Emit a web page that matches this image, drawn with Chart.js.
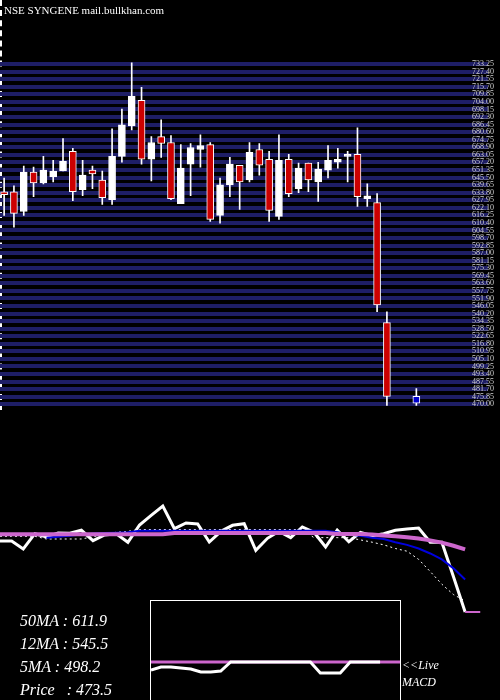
<!DOCTYPE html>
<html lang="en">
<head>
<meta charset="UTF-8">
<title>NSE SYNGENE</title>
<script src="https://cdn.jsdelivr.net/npm/chart.js"></script>
<style>
  body { margin: 0; background: #000; width: 500px; height: 700px; overflow: hidden; position: relative; font-family: "Liberation Serif", serif; color: #fff; }
  .abs { position: absolute; }
  #title { left: 4px; top: 4px; font-size: 11px; }
  #edge { left: 0; top: 0; width: 0; height: 410px; border-left: 2px dashed #fff; }
  .ma { left: 20px; font-size: 16px; font-style: italic; }
  .live { left: 402px; font-size: 12px; font-style: italic; }
  #macdBox { left: 150px; top: 600px; width: 249px; height: 110px; border: 1px solid #fff; }
</style>
</head>
<body>
<div id="edge" class="abs"></div>
<div class="abs" style="left:0;top:0;width:500px;height:420px"><canvas id="priceChart"></canvas></div>
<div class="abs" style="left:0;top:490px;width:500px;height:130px"><canvas id="maChart"></canvas></div>
<div id="macdBox" class="abs"><canvas id="macdChart"></canvas></div>
<div id="title" class="abs">NSE SYNGENE mail.bullkhan.com</div>
<div class="abs ma" style="top:612px">50MA : 611.9</div>
<div class="abs ma" style="top:635px">12MA : 545.5</div>
<div class="abs ma" style="top:658px">5MA : 498.2</div>
<div class="abs ma" style="top:681px">Price &nbsp;&nbsp;: 473.5</div>
<div class="abs live" style="top:658px">&lt;&lt;Live</div>
<div class="abs live" style="top:675px">MACD</div>
<script>
// candles (null = empty session slot)
const opens  = [634.5,634.5,619.2,649.7,641.3,645.9,650.5,665.7,636.0,651.2,643.6,628.4,661.9,685.5,705.3,659.6,677.1,672.6,625.3,655.8,667.2,671.0,616.2,639.8,655.0,643.6,667.2,659.6,615.4,659.6,636.8,656.6,642.1,651.2,657.3,661.9,663.4,629.1,626.1,533.2,null,null,476.1];
const closes = [632.2,617.7,649.7,641.3,651.2,650.5,658.1,634.5,647.4,648.2,629.9,661.9,686.3,708.3,659.6,672.6,671.8,629.1,652.8,668.7,670.3,613.1,639.8,655.8,642.1,664.9,655.0,620.0,658.8,633.0,652.8,643.6,652.0,658.8,659.6,663.4,630.7,631.4,546.9,476.1,null,null,470.8];
const highs  = [645.1,639.0,654.3,653.5,661.9,658.8,675.6,668.0,658.8,654.3,650.5,683.2,698.4,734.2,715.2,677.1,690.1,677.9,671.0,671.8,678.6,672.6,645.1,661.1,655.0,672.6,671.8,665.7,678.6,663.4,656.6,656.6,657.3,670.3,668.0,665.7,684.0,640.6,633.0,541.6,null,null,482.2];
const lows   = [616.2,607.1,616.2,630.7,640.6,642.1,650.5,627.6,631.4,636.8,624.6,624.6,657.3,682.4,655.8,642.8,661.1,628.4,625.3,631.4,653.5,611.6,610.1,630.7,620.8,642.0,647.4,611.6,613.1,630.7,633.7,634.5,626.9,645.1,652.8,642.1,623.1,623.1,541.6,469.2,null,null,469.2];

// lower panel: price line and moving averages
const priceLine = [630.6,630.6,612.9,646.7,639.4,648.3,647.6,654.3,631.2,643.9,646.7,627.7,666.0,687.4,708.0,657.8,670.4,668.2,628.4,652.0,665.3,668.9,610.0,636.5,652.0,637.9,661.6,649.8,617.3,654.9,629.0,649.8,642.3,646.7,654.3,657.1,659.3,627.7,627.7,551.6,473.5];
const ma50 = [645.5,645.5,645.5,645.5,645.5,645.5,645.5,645.5,645.5,645.5,645.5,645.5,645.5,645.5,645.5,648,648,648,648,648,648,648,648,648,648,648,648,648,648,646,646,646,645,643,641,639,636,632,627,620,612];
const ma12 = [null,null,null,null,638,640,642,645,647,648,649,650,653,653,653,653,653,653,653,653,653,653,653,653,653,653,653,653,653,650,645,642,638,635,628,622,614,603,590,570,545.5];
const ma5  = [641,641,641,641,635,635,635,635,640,645,650,652,656,656,656,656,656,656,656,656,656,656,656,656,656,656,656,638,638,638,638,633,628,622,614,608,590,563,535,512,498];

// MACD panel
const macd   = [-8,-5,-5,-6,-7,-10,-10,-9,0,0,0,0,0,0,0,0,0,-11,-11,-11,0,0,0,0,null,null];
const signal = [0,0,0,0,0,0,0,0,0,0,0,0,0,0,0,0,0,0,0,0,0,0,0,0,0,0];

const yTicks = [];
for (let v = 470; v <= 738.6; v += 5.85) yTicks.push(v);

const bodies = [], wicks = [], bodyColors = [];
opens.forEach((o, i) => {
  if (o === null) return;
  const c = closes[i];
  bodies.push({ x: i, y: [o, c] });
  wicks.push({ x: i, y: [lows[i], highs[i]] });
  const last = i === opens.length - 1;
  bodyColors.push(last ? '#0000cc' : (c < o ? '#cc0000' : '#ffffff'));
});

new Chart(document.getElementById('priceChart'), {
  type: 'bar',
  data: {
    datasets: [
      { data: wicks, backgroundColor: '#ffffff', barThickness: 1, grouped: false, order: 2 },
      { data: bodies, backgroundColor: bodyColors, borderColor: '#ffffff', borderWidth: 1, borderSkipped: false, barThickness: 7, minBarLength: 2, grouped: false, order: 1 }
    ]
  },
  options: {
    responsive: true, maintainAspectRatio: false, animation: false,
    layout: { padding: { top: 55, bottom: 5 } },
    plugins: { legend: { display: false }, tooltip: { enabled: false } },
    scales: {
      x: { type: 'linear', offset: false, min: -0.42, max: 49.3, display: false },
      y: {
        position: 'right', min: 466.2, max: 740.3,
        afterBuildTicks: (ax) => { ax.ticks = yTicks.map(v => ({ value: v })); },
        grid: { color: '#1e1e66', lineWidth: 4, drawTicks: false },
        border: { display: false },
        ticks: { autoSkip: false, mirror: true, padding: 6, color: '#d0d0d0', font: { family: 'Liberation Serif', size: 8 },
          callback: (v) => v.toFixed(2) }
      }
    }
  }
});

const pts = (arr) => arr.map((v, i) => ({ x: i, y: v }));
new Chart(document.getElementById('maChart'), {
  type: 'line',
  data: {
    datasets: [
      { data: pts(ma50), borderColor: '#cc66cc', borderWidth: 4, pointRadius: 0 },
      { data: [{ x: 40, y: 473.5 }, { x: 41.3, y: 473.5 }], borderColor: '#cc66cc', borderWidth: 2, pointRadius: 0 },
      { data: pts(ma12), borderColor: '#0000dd', borderWidth: 2, pointRadius: 0 },
      { data: pts(ma5), borderColor: '#ffffff', borderWidth: 1, borderDash: [2, 3], pointRadius: 0 },
      { data: pts(priceLine), borderColor: '#ffffff', borderWidth: 3, pointRadius: 0 }
    ]
  },
  options: {
    responsive: true, maintainAspectRatio: false, animation: false,
    plugins: { legend: { display: false }, tooltip: { enabled: false } },
    scales: {
      x: { type: 'linear', min: 0, max: 43, display: false },
      y: { min: 455.8, max: 743.4, display: false }
    }
  }
});

new Chart(document.getElementById('macdChart'), {
  type: 'line',
  data: {
    labels: signal.map((_, i) => i),
    datasets: [
      { data: macd, borderColor: '#ffffff', borderWidth: 3, pointRadius: 0, order: 1 },
      { data: signal, borderColor: '#cc66cc', borderWidth: 3, pointRadius: 0, order: 2 }
    ]
  },
  options: {
    responsive: true, maintainAspectRatio: false, animation: false,
    plugins: { legend: { display: false }, tooltip: { enabled: false } },
    scales: {
      x: { display: false, offset: false },
      y: { min: -49, max: 61, display: false }
    }
  }
});
</script>
</body>
</html>
